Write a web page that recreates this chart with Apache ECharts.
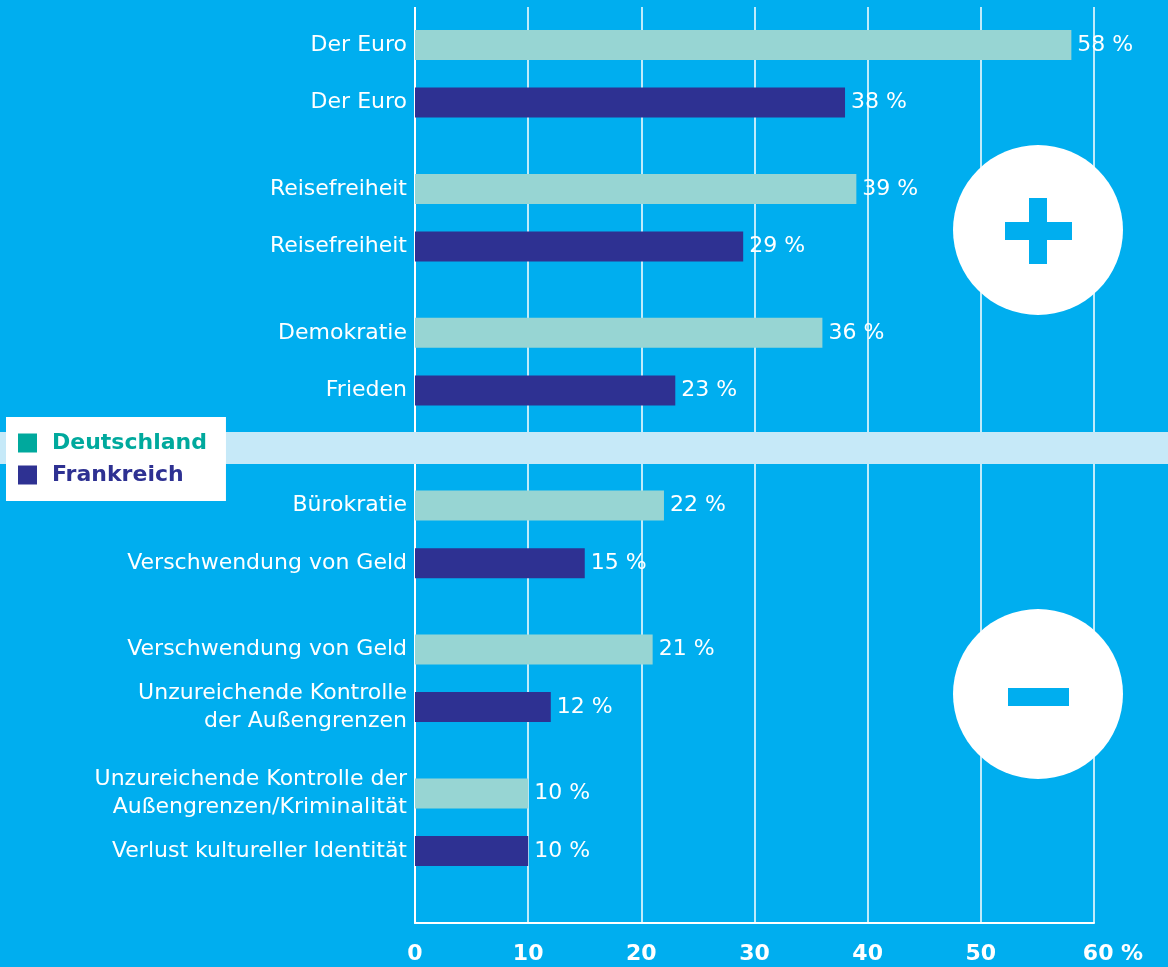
<!DOCTYPE html>
<html>
<head>
<meta charset="utf-8">
<script src="https://cdn.jsdelivr.net/npm/echarts@6/dist/echarts.min.js"></script>
<style>
  html, body { margin: 0; padding: 0; background: #00AEEF; }
  #chart { width: 1168px; height: 967px; }
</style>
</head>
<body>
<div id="chart"></div>
<script>
// Survey answers: what people associate positively (+) and negatively (−) with the EU
const categories = [
  'Der Euro', 'Der Euro',
  'Reisefreiheit', 'Reisefreiheit',
  'Demokratie', 'Frieden',
  'Bürokratie', 'Verschwendung von Geld',
  'Verschwendung von Geld', 'Unzureichende Kontrolle\nder Außengrenzen',
  'Unzureichende Kontrolle der\nAußengrenzen/Kriminalität', 'Verlust kultureller Identität'
];
const values = [58, 38, 39, 29, 36, 23, 22, 15, 21, 12, 10, 10];
const countries = [
  'Deutschland', 'Frankreich', 'Deutschland', 'Frankreich', 'Deutschland', 'Frankreich',
  'Deutschland', 'Frankreich', 'Deutschland', 'Frankreich', 'Deutschland', 'Frankreich'
];
const seriesNames = ['Deutschland', 'Frankreich'];
const xTicks = [0, 10, 20, 30, 40, 50, 60];

// Row slots on the category axis (blank slots give the grouping gaps)
const rowSlot = [1, 3, 6, 8, 11, 13, 17, 19, 22, 24, 27, 29];
const slotCount = 32;

const BG = '#00AEEF';
const barColors = { Deutschland: '#97D5D3', Frankreich: '#2E3192' };
const legendColors = { Deutschland: '#00A99D', Frankreich: '#2E3192' };
const FONT = '"DejaVu Sans", sans-serif';

const axisData = new Array(slotCount).fill('');
rowSlot.forEach((s, i) => { axisData[s] = categories[i]; });

const series = seriesNames.map(name => {
  const data = new Array(slotCount).fill('-');
  rowSlot.forEach((s, i) => { if (countries[i] === name) data[s] = values[i]; });
  return {
    name,
    type: 'bar',
    data,
    barWidth: 30,
    barGap: '-100%',
    z: 3,
    itemStyle: { color: barColors[name] },
    label: {
      show: true,
      position: 'right',
      distance: 6,
      formatter: p => p.value + ' %',
      color: '#fff',
      fontFamily: FONT,
      fontSize: 22
    }
  };
});

const chart = echarts.init(document.getElementById('chart'), null, { renderer: 'canvas' });

const slotH = (851 - 45) / (rowSlot[11] - rowSlot[0]);
const gridTop = 45 - (rowSlot[0] + 0.5) * slotH;
const gridH = slotCount * slotH;

chart.setOption({
  backgroundColor: BG,
  animation: false,
  grid: { left: 415, right: 74, top: gridTop, height: gridH, containLabel: false },
  xAxis: {
    type: 'value',
    min: 0, max: 60, interval: 10,
    axisLine: { show: true, lineStyle: { color: '#fff', width: 2 } },
    axisTick: { show: false },
    splitLine: { show: true, lineStyle: { color: '#fff', width: 1.5 } },
    axisLabel: {
      margin: 20,
      color: '#fff',
      fontFamily: FONT,
      fontWeight: 'bold',
      fontSize: 22,
      customValues: xTicks,
      formatter: v => (v === 60 ? '{p|60 %}' : String(v)),
      rich: {
        p: { color: '#fff', fontFamily: FONT, fontWeight: 'bold', fontSize: 22, padding: [0, 0, 0, 38] }
      }
    }
  },
  yAxis: {
    type: 'category',
    inverse: true,
    data: axisData,
    axisLine: { show: true, lineStyle: { color: '#fff', width: 2 } },
    axisTick: { show: false },
    splitLine: { show: false },
    axisLabel: {
      interval: 0,
      margin: 8,
      color: '#fff',
      fontFamily: FONT,
      fontSize: 22,
      lineHeight: 28,
      align: 'right'
    }
  },
  legend: {
    orient: 'vertical',
    left: 6,
    top: 417,
    z: 10,
    selectedMode: false,
    backgroundColor: '#fff',
    padding: [15, 19, 15, 12],
    itemGap: 10,
    itemWidth: 19,
    itemHeight: 19,
    icon: 'rect',
    data: seriesNames.map(n => ({
      name: n,
      itemStyle: { color: legendColors[n] },
      textStyle: { color: legendColors[n], fontWeight: 'bold', fontSize: 22, fontFamily: FONT, padding: [0, 0, 0, 10] }
    }))
  },
  graphic: [
    // gridlines start a little below the top edge
    { type: 'rect', z: 4, shape: { x: 405, y: 0, width: 700, height: 7 }, style: { fill: BG } },
    // divider band between the positive and negative blocks
    { type: 'rect', z: 1, shape: { x: 0, y: 432, width: 1168, height: 32 }, style: { fill: '#C6E9F8' } },
    // plus badge
    { type: 'circle', z: 5, shape: { cx: 1038, cy: 230, r: 85 }, style: { fill: '#fff' } },
    { type: 'rect', z: 6, shape: { x: 1005, y: 222, width: 67, height: 18 }, style: { fill: BG } },
    { type: 'rect', z: 6, shape: { x: 1029, y: 198, width: 18, height: 66 }, style: { fill: BG } },
    // minus badge
    { type: 'circle', z: 5, shape: { cx: 1038, cy: 694, r: 85 }, style: { fill: '#fff' } },
    { type: 'rect', z: 6, shape: { x: 1008, y: 688, width: 61, height: 18 }, style: { fill: BG } }
  ],
  series
});
</script>
</body>
</html>
